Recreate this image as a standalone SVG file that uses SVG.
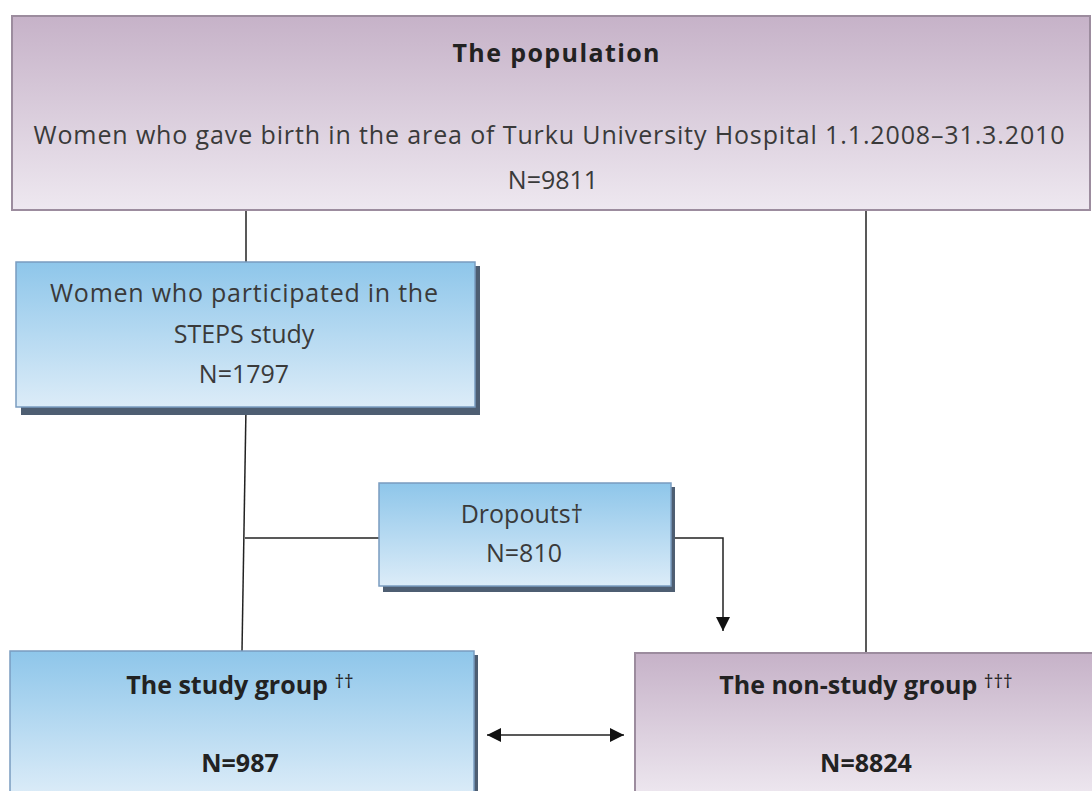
<svg xmlns="http://www.w3.org/2000/svg" width="1092" height="791" viewBox="0 0 1092 791">
<defs>
<linearGradient id="gPurple" x1="0" y1="0" x2="0" y2="1">
<stop offset="0" stop-color="#c6b2c8"/>
<stop offset="1" stop-color="#eee8f0"/>
</linearGradient>
<linearGradient id="gBlue" x1="0" y1="0" x2="0" y2="1">
<stop offset="0" stop-color="#8ec6ea"/>
<stop offset="1" stop-color="#dcecf8"/>
</linearGradient>
<marker id="arr" viewBox="0 0 10 10" refX="10" refY="5" markerWidth="15" markerHeight="14" markerUnits="userSpaceOnUse" orient="auto-start-reverse">
<path d="M0,0 L10,5 L0,10 z" fill="#111"/>
</marker>
</defs>
<style>
.t{font-family:"Open Sans","Liberation Sans",sans-serif;font-size:25px;fill:#3a3a3a;text-anchor:middle}
.b{font-weight:bold;fill:#222}
.pbox{fill:url(#gPurple);stroke:#9c8c9e;stroke-width:2}
.bbox{fill:url(#gBlue);stroke:#7a9cc0;stroke-width:1.5}
.shadow{fill:#4e5e72}
.ln{stroke:#222;stroke-width:1.5;fill:none}
.sup{font-weight:normal;font-size:19px}
</style>
<rect width="1092" height="791" fill="#ffffff"/>
<g id="connectors">
<line class="ln" x1="246" y1="210" x2="246" y2="262"/>
<line class="ln" x1="246" y1="407" x2="242" y2="651"/>
<line class="ln" x1="245" y1="538" x2="379" y2="538"/>
<polyline class="ln" points="671,538 723,538 723,631" marker-end="url(#arr)"/>
<line class="ln" x1="866" y1="210" x2="866" y2="653"/>
<line class="ln" x1="487" y1="735" x2="624" y2="735" marker-start="url(#arr)" marker-end="url(#arr)"/>
</g>
<g id="population">
<rect class="pbox" x="12" y="16" width="1078" height="194"/>
<text class="t b" x="556" y="62" font-size="26" textLength="207" lengthAdjust="spacing">The population</text>
<text class="t" x="549" y="144" textLength="1031" lengthAdjust="spacing">Women who gave birth in the area of Turku University Hospital 1.1.2008–31.3.2010</text>
<text class="t" x="553" y="189">N=9811</text>
</g>
<g id="participants">
<rect class="shadow" x="21" y="266" width="459" height="149"/>
<rect class="bbox" x="16" y="262" width="459" height="145"/>
<text class="t" x="244" y="302" textLength="388" lengthAdjust="spacing">Women who participated in the</text>
<text class="t" x="244" y="343">STEPS study</text>
<text class="t" x="244" y="383">N=1797</text>
</g>
<g id="dropouts">
<rect class="shadow" x="383" y="487" width="292" height="105"/>
<rect class="bbox" x="379" y="483" width="292" height="103"/>
<text class="t" x="522" y="523">Dropouts†</text>
<text class="t" x="524" y="562">N=810</text>
</g>
<g id="studygroup">
<rect class="shadow" x="14" y="655" width="464" height="140"/>
<rect class="bbox" x="10" y="651" width="464" height="145"/>
<text class="t b" x="240" y="694">The study group <tspan class="sup" dy="-6">††</tspan></text>
<text class="t b" x="240" y="772">N=987</text>
</g>
<g id="nonstudygroup">
<rect class="pbox" x="635" y="653" width="460" height="145"/>
<text class="t b" x="866" y="694">The non-study group <tspan class="sup" dy="-6">†††</tspan></text>
<text class="t b" x="866" y="772">N=8824</text>
</g>
</svg>
